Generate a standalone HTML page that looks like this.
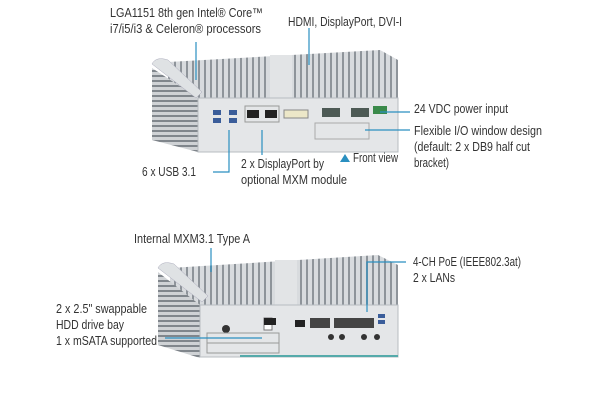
<!DOCTYPE html>
<html><head><meta charset="utf-8"><style>
body{margin:0;background:#fff;width:600px;height:400px;overflow:hidden}
svg text{font-family:"Liberation Sans Narrow","Liberation Sans",sans-serif;font-size:12.5px;fill:#333}
</style></head><body>
<svg width="600" height="400" viewBox="0 0 600 400" xmlns="http://www.w3.org/2000/svg">
<defs>
<pattern id="fin" width="6" height="10" patternUnits="userSpaceOnUse">
<rect width="6" height="10" fill="#d8dbde"/><rect width="2" height="10" fill="#8e949a"/>
</pattern>
<pattern id="side" width="10" height="5" patternUnits="userSpaceOnUse">
<rect width="10" height="5" fill="#cfd2d5"/><rect width="10" height="2" fill="#80868c"/>
</pattern>
</defs>
<!-- top device -->
<polygon points="168,62 380,50 398,60 398,100 198,100 168,82" fill="url(#fin)"/>
<polygon points="152,68 198,98 198,152 152,140" fill="url(#side)"/>
<path d="M152,64 q4,-8 16,-4 l34,32 l-6,6 z" fill="#dfe2e4" stroke="#aab" stroke-width="0.5"/>
<rect x="270" y="55" width="22" height="45" fill="#e2e4e6"/>
<rect x="198" y="98" width="200" height="54" fill="#e4e6e8" stroke="#b7bcc1"/>
<rect x="213" y="110" width="8" height="5" fill="#3a5d9a"/><rect x="213" y="118" width="8" height="5" fill="#3a5d9a"/>
<rect x="229" y="110" width="8" height="5" fill="#3a5d9a"/><rect x="229" y="118" width="8" height="5" fill="#3a5d9a"/>
<rect x="245" y="106" width="34" height="16" fill="none" stroke="#999"/>
<rect x="247" y="110" width="12" height="8" fill="#222"/><rect x="265" y="110" width="12" height="8" fill="#222"/>
<rect x="284" y="110" width="24" height="8" fill="#ece7c8" stroke="#888"/>
<rect x="322" y="108" width="18" height="9" fill="#4d5a55"/><rect x="351" y="108" width="18" height="9" fill="#4d5a55"/>
<rect x="373" y="106" width="14" height="8" fill="#3a8a4a"/>
<rect x="315" y="123" width="54" height="16" fill="none" stroke="#aaa"/>
<!-- bottom device -->
<polygon points="170,268 378,255 398,265 398,308 200,308 170,290" fill="url(#fin)"/>
<polygon points="158,272 200,305 200,358 158,345" fill="url(#side)"/>
<path d="M158,268 q4,-8 16,-4 l34,32 l-6,6 z" fill="#dfe2e4" stroke="#aab" stroke-width="0.5"/>
<rect x="275" y="260" width="22" height="48" fill="#e2e4e6"/>
<rect x="200" y="305" width="198" height="52" fill="#e4e6e8" stroke="#b7bcc1"/>
<line x1="240" y1="356" x2="398" y2="356" stroke="#5aa" stroke-width="2"/>
<circle cx="226" cy="329" r="4" fill="#333"/>
<rect x="264" y="318" width="8" height="12" fill="#fff" stroke="#777"/>
<rect x="264" y="318" width="12" height="7" fill="#222"/>
<rect x="295" y="320" width="10" height="7" fill="#222"/>
<rect x="310" y="318" width="20" height="10" fill="#444"/>
<rect x="334" y="318" width="40" height="10" fill="#444"/>
<rect x="378" y="314" width="7" height="4" fill="#3a5d9a"/><rect x="378" y="320" width="7" height="4" fill="#3a5d9a"/>
<circle cx="331" cy="337" r="3" fill="#333"/><circle cx="342" cy="337" r="3" fill="#333"/>
<circle cx="364" cy="337" r="3" fill="#333"/><circle cx="377" cy="337" r="3" fill="#333"/>
<rect x="207" y="333" width="72" height="20" fill="none" stroke="#999"/>
<line x1="207" y1="343" x2="279" y2="343" stroke="#999"/>
<g stroke="#2a8fc0" stroke-width="1.2" fill="none">
<line x1="196" y1="42" x2="196" y2="80"/>
<line x1="309" y1="28" x2="309" y2="65"/>
<line x1="380" y1="112" x2="410" y2="112"/>
<line x1="365" y1="130" x2="410" y2="130"/>
<polyline points="213,172 229,172 229,130"/>
<line x1="262" y1="130" x2="262" y2="155"/>
<line x1="211" y1="248" x2="211" y2="272"/>
<polyline points="367,312 367,262 406,262"/>
<line x1="165" y1="338" x2="262" y2="338"/>
</g>
<polygon points="340,162 345,154 350,162" fill="#2a8fc0"/>
<g lengthAdjust="spacingAndGlyphs">
<text x="110" y="17" textLength="153" lengthAdjust="spacingAndGlyphs">LGA1151 8th gen Intel® Core™</text>
<text x="110" y="33" textLength="151" lengthAdjust="spacingAndGlyphs">i7/i5/i3 &amp; Celeron® processors</text>
<text x="288" y="26" textLength="114" lengthAdjust="spacingAndGlyphs">HDMI, DisplayPort, DVI-I</text>
<text x="414" y="113" textLength="94" lengthAdjust="spacingAndGlyphs">24 VDC power input</text>
<text x="414" y="135" textLength="128" lengthAdjust="spacingAndGlyphs">Flexible I/O window design</text>
<text x="414" y="151" textLength="116" lengthAdjust="spacingAndGlyphs">(default: 2 x DB9 half cut</text>
<text x="414" y="167" textLength="35" lengthAdjust="spacingAndGlyphs">bracket)</text>
<text x="142" y="176" textLength="54" lengthAdjust="spacingAndGlyphs">6 x USB 3.1</text>
<text x="241" y="168" textLength="83" lengthAdjust="spacingAndGlyphs">2 x DisplayPort by</text>
<text x="241" y="184" textLength="106" lengthAdjust="spacingAndGlyphs">optional MXM module</text>
<text x="353" y="162" textLength="45" lengthAdjust="spacingAndGlyphs">Front view</text>
<text x="134" y="243" textLength="116" lengthAdjust="spacingAndGlyphs">Internal MXM3.1 Type A</text>
<text x="413" y="266" textLength="108" lengthAdjust="spacingAndGlyphs">4-CH PoE (IEEE802.3at)</text>
<text x="413" y="282" textLength="42" lengthAdjust="spacingAndGlyphs">2 x LANs</text>
<text x="56" y="313" textLength="91" lengthAdjust="spacingAndGlyphs">2 x 2.5" swappable</text>
<text x="56" y="329" textLength="68" lengthAdjust="spacingAndGlyphs">HDD drive bay</text>
<text x="56" y="345" textLength="101" lengthAdjust="spacingAndGlyphs">1 x mSATA supported</text>
</g>
</svg>
</body></html>
